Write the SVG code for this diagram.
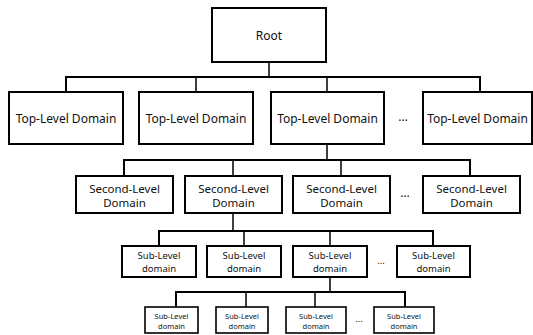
<svg xmlns="http://www.w3.org/2000/svg" width="533" height="335" viewBox="0 0 533 335">
<style>
.box{fill:#fff;stroke:#000;stroke-width:2}
.box4{fill:#fff;stroke:#000;stroke-width:1.6}
.h{stroke:#000;stroke-width:2;fill:none}
.v{stroke:#000;stroke-width:1.5;fill:none}
text{font-family:"Noto Sans","Liberation Sans",sans-serif;fill:#111;text-anchor:middle;dominant-baseline:central}
.t1{font-size:12px}
.t2{font-size:11.5px}
.t3{font-size:9.5px}
.t4{font-size:7.5px}
</style>
<rect width="533" height="335" fill="#fff"/>
<g id="connectors">
<path class="v" d="M269,62V77"/>
<path class="h" d="M66,92V77H480V92"/>
<path class="v" d="M196,77V92M327,77V92"/>
<path class="v" d="M327,144V160"/>
<path class="h" d="M124,176V160H470V176"/>
<path class="v" d="M233,160V176M341,160V176"/>
<path class="v" d="M233,213V231"/>
<path class="h" d="M159,246V231H433V246"/>
<path class="v" d="M244,231V246M330,231V246"/>
<path class="v" d="M330,277V292"/>
<path class="h" d="M176,307V292H405V307"/>
<path class="v" d="M246,292V307M315,292V307"/>
</g>
<g id="root"><rect class="box" x="212" y="8" width="114" height="54"/><text class="t1" x="269" y="35">Root</text></g>
<g id="tld1"><rect class="box" x="9" y="92" width="114" height="52"/><text class="t1" x="66" y="118">Top-Level Domain</text></g>
<g id="tld2"><rect class="box" x="139" y="92" width="114" height="52"/><text class="t1" x="196" y="118">Top-Level Domain</text></g>
<g id="tld3"><rect class="box" x="271" y="92" width="113" height="52"/><text class="t1" x="327.5" y="118">Top-Level Domain</text></g>
<g id="tld-ellipsis"><text class="t1" x="403" y="116">…</text></g>
<g id="tld4"><rect class="box" x="423" y="92" width="109" height="52"/><text class="t1" x="477.5" y="118">Top-Level Domain</text></g>
<g id="sld1"><rect class="box" x="76" y="176" width="97" height="37"/><text class="t2" x="124.5" y="188">Second-Level</text><text class="t2" x="124.5" y="202">Domain</text></g>
<g id="sld2"><rect class="box" x="185" y="176" width="97" height="37"/><text class="t2" x="233.5" y="188">Second-Level</text><text class="t2" x="233.5" y="202">Domain</text></g>
<g id="sld3"><rect class="box" x="293" y="176" width="97" height="37"/><text class="t2" x="341.5" y="188">Second-Level</text><text class="t2" x="341.5" y="202">Domain</text></g>
<g id="sld-ellipsis"><text class="t1" x="405" y="192">…</text></g>
<g id="sld4"><rect class="box" x="423" y="176" width="97" height="37"/><text class="t2" x="471.5" y="188">Second-Level</text><text class="t2" x="471.5" y="202">Domain</text></g>
<g id="sub1"><rect class="box" x="122" y="246" width="74" height="31"/><text class="t3" x="159" y="255">Sub-Level</text><text class="t3" x="159" y="268">domain</text></g>
<g id="sub2"><rect class="box" x="207" y="246" width="74" height="31"/><text class="t3" x="244" y="255">Sub-Level</text><text class="t3" x="244" y="268">domain</text></g>
<g id="sub3"><rect class="box" x="293" y="246" width="74" height="31"/><text class="t3" x="330" y="255">Sub-Level</text><text class="t3" x="330" y="268">domain</text></g>
<g id="sub-ellipsis"><text class="t3" x="381" y="260">…</text></g>
<g id="sub4"><rect class="box" x="397" y="246" width="73" height="31"/><text class="t3" x="433.5" y="255">Sub-Level</text><text class="t3" x="433.5" y="268">domain</text></g>
<g id="subsub1"><rect class="box4" x="145" y="307" width="53" height="26"/><text class="t4" x="171.5" y="316">Sub-Level</text><text class="t4" x="171.5" y="326">domain</text></g>
<g id="subsub2"><rect class="box4" x="216" y="307" width="52" height="26"/><text class="t4" x="242" y="316">Sub-Level</text><text class="t4" x="242" y="326">domain</text></g>
<g id="subsub3"><rect class="box4" x="286" y="307" width="60" height="26"/><text class="t4" x="316" y="316">Sub-Level</text><text class="t4" x="316" y="326">domain</text></g>
<g id="subsub-ellipsis"><text class="t3" x="359" y="318">…</text></g>
<g id="subsub4"><rect class="box4" x="374" y="307" width="60" height="26"/><text class="t4" x="404" y="316">Sub-Level</text><text class="t4" x="404" y="326">domain</text></g>
</svg>
